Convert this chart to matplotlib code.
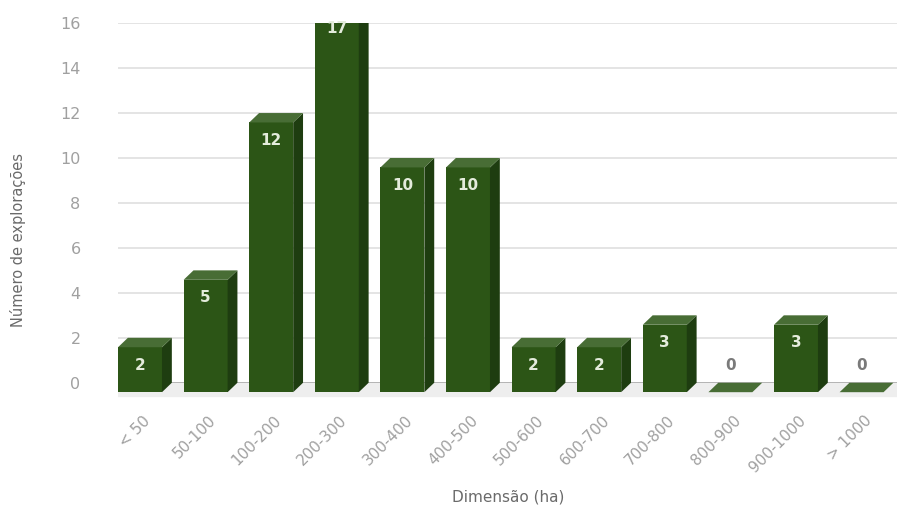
import numpy as np
import matplotlib
matplotlib.use('Agg')
import matplotlib.pyplot as plt
from matplotlib.patches import Polygon, Rectangle

categories = ['< 50', '50-100', '100-200', '200-300', '300-400', '400-500',
              '500-600', '600-700', '700-800', '800-900', '900-1000', '> 1000']
counts = [2, 5, 12, 17, 10, 10, 2, 2, 3, 0, 3, 0]
yticks = [0, 2, 4, 6, 8, 10, 12, 14, 16]

front_col = '#2c5516'
side_col = '#1e3d10'
top_col = '#486d35'
grey = '#a0a0a0'

# pseudo-3d depth in data units
w = 0.67
dx = 0.15
dy = 0.42

fig = plt.figure(figsize=(8.97, 5.14), dpi=100)
ax = fig.add_axes([0.1316, 0.216, 0.8684, 0.739])
ax.set_xlim(-w / 2, 11.54)
ax.set_ylim(-0.9, 16)

for s in ax.spines.values():
    s.set_visible(False)

# gridlines on the back wall
for t in yticks:
    ax.axhline(t, color='#e4e4e4' if t else '#a0a0a0', lw=1.4, zorder=0)

# floor
x0, x1 = -w / 2 - 0.3, 12
ax.add_patch(Polygon([(x0, -dy - 0.22), (x1, -dy - 0.22), (x1 + dx, 0), (x0 + dx, 0)],
                     closed=True, color='#eeeeee', lw=0, zorder=0.5))

x = np.arange(len(categories))
for i, v in zip(x, counts):
    l, r = i - w / 2, i + w / 2
    if v > 0:
        ax.add_patch(Rectangle((l, -dy), w, v, color=front_col, lw=0, zorder=2))
        ax.add_patch(Polygon([(r, -dy), (r + dx, 0), (r + dx, v), (r, v - dy)],
                             closed=True, color=side_col, lw=0, zorder=2))
    ax.add_patch(Polygon([(l, v - dy), (r, v - dy), (r + dx, v), (l + dx, v)],
                         closed=True, color=top_col, lw=0, zorder=2))
    if v > 0:
        ax.text(i, v - dy - 0.8, str(v), ha='center', va='center', color='#e4ecdc',
                fontsize=11, fontweight='bold', zorder=3)
    else:
        ax.text(i, 0.75, str(v), ha='center', va='center', color='#7a7a7a',
                fontsize=11, fontweight='bold', zorder=3)

ax.set_yticks(yticks)
ax.set_yticklabels([str(t) for t in yticks], color=grey, fontsize=11.5)
ax.tick_params(axis='y', length=0, pad=27)

ax.set_xticks(x + 0.12)
ax.set_xticklabels(categories, rotation=45, ha='right', va='center',
                   rotation_mode='anchor', color=grey, fontsize=11)
ax.tick_params(axis='x', length=0, pad=11)

fig.text(0.566, 0.033, 'Dimensão (ha)', ha='center', va='center', color='#6a6a6a', fontsize=11)
fig.text(0.02, 0.533, 'Número de explorações', ha='center', va='center', rotation=90,
         color='#6a6a6a', fontsize=10.5)

fig.savefig('out.png', dpi=100)
